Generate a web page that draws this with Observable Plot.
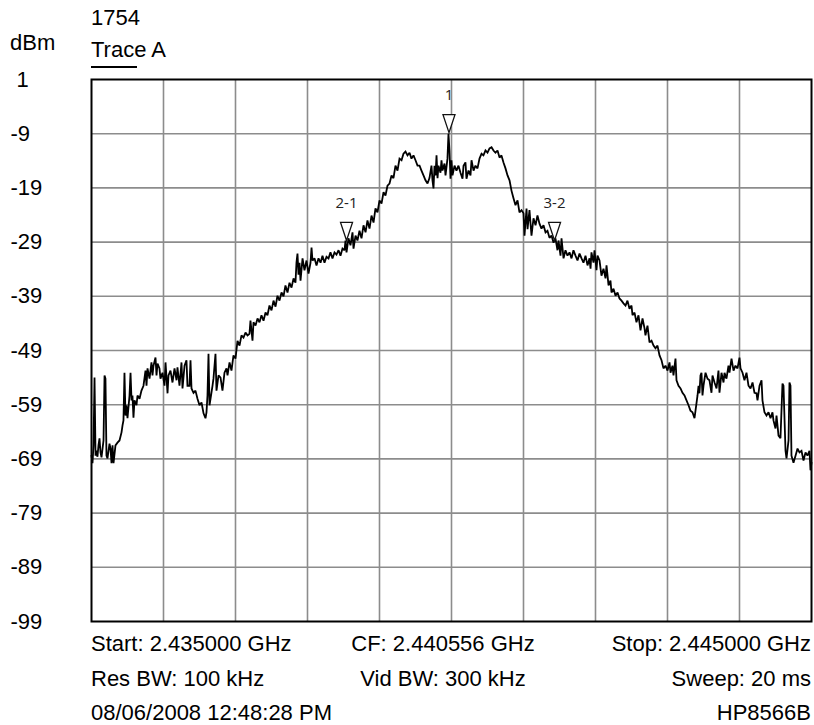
<!DOCTYPE html>
<html>
<head>
<meta charset="utf-8">
<script src="https://cdn.jsdelivr.net/npm/d3@7"></script>
<script src="https://cdn.jsdelivr.net/npm/@observablehq/plot@0.6"></script>
<style>
  body { margin: 0; background: #fff; }
  #wrap { position: relative; width: 814px; height: 725px; overflow: hidden;
          font-family: "Liberation Sans", Arial, sans-serif; font-size: 22px; color: #000; }
  .t { position: absolute; line-height: 22px; white-space: pre; }
  .c { transform: translateX(-50%); }
  #swatch { position: absolute; left: 91px; top: 66px; width: 46px; height: 2px; background: #000; }
  #chart { position: absolute; left: 0; top: 70px; }
</style>
</head>
<body>
<div id="wrap">
  <div class="t" id="title" style="left:91px;top:7px;"></div>
  <div class="t" id="unit" style="left:10px;top:32px;"></div>
  <div class="t" id="traceName" style="left:91px;top:39px;"></div>
  <div id="swatch"></div>
  <div id="chart"></div>
  <div class="t" id="f0" style="left:91px;top:633px;"></div>
  <div class="t c" id="f1" style="left:443px;top:633px;"></div>
  <div class="t" id="f2" style="right:3px;top:633px;"></div>
  <div class="t" id="f3" style="left:91px;top:668px;"></div>
  <div class="t c" id="f4" style="left:443px;top:668px;"></div>
  <div class="t" id="f5" style="right:3px;top:668px;"></div>
  <div class="t" id="f6" style="left:91px;top:702px;"></div>
  <div class="t c" id="f7" style="left:443px;top:702px;"></div>
  <div class="t" id="f8" style="right:3px;top:702px;"></div>
</div>
<script>
// ---- data ----
const titleText = "1754";
const unitText = "dBm";
const traceName = "Trace A";
const footerLines = [
  "Start: 2.435000 GHz", "CF: 2.440556 GHz", "Stop: 2.445000 GHz",
  "Res BW: 100 kHz", "Vid BW: 300 kHz", "Sweep: 20 ms",
  "08/06/2008 12:48:28 PM", "", "HP8566B"
];
// level axis (dBm), 10 dB/div
const yTicks = [1, -9, -19, -29, -39, -49, -59, -69, -79, -89, -99];
// frequency divisions, MHz from start (span 10 MHz)
const xDivs = [0, 1, 2, 3, 4, 5, 6, 7, 8, 9, 10];
// markers: offset MHz from start, level dBm, label
const markerOffset = [4.965, 3.542, 6.431];
const markerLevel = [-8.8, -28.7, -28.7];
const markerLabel = ["1", "2-1", "3-2"];
// trace A samples: [offset MHz from start, level dBm]
const traceA = [
[0,-68.4],[0.014,-69.8],[0.028,-66.5],[0.042,-54.0],[0.056,-68.4],[0.069,-67.5],[0.083,-68.6],[0.097,-66.5],[0.111,-65.2],[0.125,-67.8],[0.139,-68.7],[0.167,-65.6],[0.181,-53.6],[0.194,-54.2],[0.208,-68.4],[0.222,-68.9],[0.25,-66.2],[0.264,-67.1],[0.278,-69.8],[0.292,-66.5],[0.306,-69.8],[0.333,-66.5],[0.361,-66.0],[0.389,-65.6],[0.417,-64.1],[0.431,-62.8],[0.444,-61.9],[0.458,-53.1],[0.472,-61.0],[0.486,-59.1],[0.5,-61.5],[0.528,-57.3],[0.542,-53.1],[0.556,-58.2],[0.569,-57.3],[0.583,-61.4],[0.597,-58.2],[0.625,-59.1],[0.639,-57.3],[0.667,-57.9],[0.694,-56.4],[0.722,-55.5],[0.75,-52.7],[0.764,-55.5],[0.778,-52.3],[0.806,-54.2],[0.833,-51.2],[0.847,-53.6],[0.861,-51.8],[0.889,-50.3],[0.903,-53.6],[0.917,-51.4],[0.944,-52.3],[0.958,-54.2],[0.986,-53.1],
[1.014,-55.5],[1.028,-51.2],[1.056,-56.9],[1.069,-53.6],[1.097,-52.7],[1.125,-54.9],[1.153,-52.3],[1.181,-54.5],[1.194,-52.1],[1.222,-55.5],[1.25,-51.2],[1.264,-56.0],[1.292,-51.8],[1.319,-50.8],[1.333,-55.5],[1.361,-55.5],[1.375,-50.8],[1.389,-56.0],[1.417,-56.8],[1.444,-56.4],[1.472,-57.9],[1.5,-59.1],[1.528,-58.6],[1.556,-60.6],[1.583,-61.5],[1.597,-60.4],[1.611,-57.3],[1.625,-49.6],[1.639,-59.1],[1.653,-57.9],[1.681,-55.5],[1.694,-54.2],[1.722,-49.6],[1.736,-56.4],[1.764,-53.6],[1.792,-54.0],[1.819,-56.4],[1.847,-53.1],[1.875,-52.3],[1.889,-53.6],[1.917,-51.2],[1.944,-52.7],[1.972,-49.9],
[2.0,-50.5],[2.028,-47.2],[2.056,-48.1],[2.083,-46.2],[2.111,-46.6],[2.139,-45.7],[2.167,-46.2],[2.194,-45.9],[2.208,-43.5],[2.236,-47.2],[2.25,-43.8],[2.278,-44.4],[2.306,-43.1],[2.333,-43.8],[2.361,-42.5],[2.389,-43.5],[2.417,-42.0],[2.444,-42.5],[2.472,-40.7],[2.5,-41.6],[2.528,-39.8],[2.556,-40.9],[2.583,-38.9],[2.611,-39.8],[2.639,-38.3],[2.667,-39.0],[2.694,-37.0],[2.722,-38.3],[2.75,-36.5],[2.778,-37.4],[2.806,-35.7],[2.833,-36.5],[2.847,-32.8],[2.861,-31.1],[2.875,-35.0],[2.889,-32.8],[2.903,-36.1],[2.931,-32.0],[2.958,-34.2],[2.986,-32.4],
[3.014,-34.8],[3.042,-32.8],[3.056,-30.0],[3.069,-32.4],[3.097,-32.0],[3.125,-33.3],[3.153,-32.0],[3.181,-32.8],[3.208,-31.5],[3.236,-32.8],[3.264,-31.7],[3.292,-32.0],[3.319,-30.9],[3.347,-32.0],[3.375,-30.9],[3.403,-31.3],[3.431,-30.5],[3.458,-31.5],[3.486,-30.2],[3.514,-30.5],[3.528,-28.7],[3.542,-30.9],[3.569,-28.3],[3.597,-29.6],[3.625,-27.2],[3.639,-30.2],[3.667,-27.8],[3.694,-28.7],[3.722,-26.9],[3.75,-28.3],[3.778,-25.9],[3.806,-27.2],[3.833,-25.0],[3.861,-26.5],[3.889,-24.1],[3.917,-25.4],[3.944,-22.8],[3.972,-23.5],
[4.0,-21.3],[4.028,-21.9],[4.056,-19.8],[4.083,-20.4],[4.111,-18.6],[4.139,-18.2],[4.167,-16.7],[4.194,-17.2],[4.222,-14.9],[4.25,-15.8],[4.278,-13.6],[4.306,-13.9],[4.333,-12.7],[4.361,-12.3],[4.389,-13.0],[4.417,-12.5],[4.444,-13.6],[4.472,-13.0],[4.5,-13.9],[4.528,-14.9],[4.556,-14.9],[4.583,-15.8],[4.611,-16.7],[4.639,-17.6],[4.667,-18.2],[4.694,-17.2],[4.722,-14.9],[4.736,-17.6],[4.75,-19.1],[4.764,-14.9],[4.778,-16.7],[4.792,-13.0],[4.806,-17.2],[4.819,-14.9],[4.847,-16.2],[4.861,-13.9],[4.875,-15.8],[4.903,-14.5],[4.917,-16.7],[4.944,-13.6],[4.958,-9.0],[4.972,-12.1],[4.986,-17.3],
[5.0,-13.9],[5.014,-16.7],[5.042,-14.9],[5.069,-15.8],[5.097,-14.9],[5.125,-16.2],[5.153,-17.3],[5.167,-14.9],[5.194,-14.3],[5.208,-17.3],[5.236,-15.8],[5.264,-16.7],[5.278,-13.9],[5.306,-15.8],[5.333,-14.9],[5.361,-15.4],[5.389,-13.6],[5.417,-12.7],[5.444,-13.0],[5.472,-12.1],[5.5,-12.5],[5.528,-11.7],[5.556,-11.5],[5.583,-12.1],[5.611,-12.5],[5.639,-12.1],[5.667,-13.4],[5.694,-13.0],[5.722,-14.3],[5.75,-15.4],[5.778,-16.7],[5.806,-17.6],[5.833,-19.5],[5.861,-20.9],[5.889,-22.2],[5.917,-21.3],[5.944,-23.5],[5.972,-23.1],
[6.0,-23.7],[6.014,-27.8],[6.042,-22.8],[6.056,-26.6],[6.083,-23.1],[6.111,-27.8],[6.139,-24.6],[6.167,-25.9],[6.194,-24.1],[6.222,-25.6],[6.25,-26.5],[6.278,-25.9],[6.306,-27.2],[6.333,-26.9],[6.361,-28.2],[6.389,-27.8],[6.417,-29.1],[6.444,-28.3],[6.472,-30.5],[6.486,-28.7],[6.514,-31.5],[6.528,-28.3],[6.556,-32.0],[6.583,-30.5],[6.611,-31.5],[6.639,-30.9],[6.667,-32.0],[6.694,-30.5],[6.722,-31.5],[6.75,-32.4],[6.778,-31.1],[6.806,-32.0],[6.833,-32.8],[6.861,-31.5],[6.889,-33.3],[6.917,-32.0],[6.931,-33.9],[6.944,-30.9],[6.972,-32.8],[6.986,-30.5],
[7.014,-34.2],[7.028,-31.5],[7.056,-32.4],[7.083,-35.2],[7.111,-33.9],[7.139,-35.7],[7.153,-33.3],[7.181,-37.0],[7.208,-36.1],[7.222,-38.3],[7.25,-37.6],[7.278,-38.9],[7.306,-38.3],[7.333,-39.4],[7.361,-39.8],[7.389,-40.3],[7.417,-40.7],[7.444,-39.8],[7.472,-41.3],[7.5,-40.7],[7.514,-42.5],[7.542,-42.0],[7.569,-43.8],[7.597,-42.5],[7.625,-45.3],[7.653,-43.1],[7.681,-44.9],[7.694,-46.2],[7.722,-44.4],[7.75,-47.5],[7.778,-47.2],[7.806,-48.1],[7.833,-48.6],[7.861,-48.1],[7.889,-49.9],[7.917,-50.8],[7.944,-52.3],[7.972,-51.8],
[8.0,-52.7],[8.028,-51.2],[8.042,-53.1],[8.069,-51.8],[8.083,-53.6],[8.111,-50.5],[8.125,-54.5],[8.153,-55.5],[8.181,-56.0],[8.208,-56.8],[8.236,-57.3],[8.264,-58.2],[8.292,-59.1],[8.319,-60.1],[8.347,-60.4],[8.375,-61.5],[8.389,-60.1],[8.417,-57.3],[8.431,-55.5],[8.444,-56.9],[8.458,-53.6],[8.472,-53.1],[8.486,-57.3],[8.5,-55.5],[8.528,-53.1],[8.556,-54.2],[8.583,-54.5],[8.611,-56.8],[8.625,-53.6],[8.653,-54.9],[8.681,-56.0],[8.708,-52.7],[8.722,-56.8],[8.75,-53.1],[8.778,-54.9],[8.792,-53.1],[8.819,-54.2],[8.847,-51.8],[8.861,-53.1],[8.889,-50.5],[8.917,-52.7],[8.944,-51.8],[8.972,-52.3],
[9.0,-50.3],[9.014,-52.3],[9.042,-53.1],[9.069,-54.5],[9.097,-53.1],[9.125,-55.5],[9.153,-56.0],[9.181,-54.9],[9.208,-56.8],[9.236,-56.9],[9.25,-58.2],[9.278,-55.5],[9.306,-54.5],[9.319,-58.2],[9.347,-60.4],[9.375,-61.0],[9.403,-60.4],[9.431,-61.5],[9.458,-60.4],[9.472,-61.9],[9.5,-63.4],[9.514,-61.0],[9.542,-64.7],[9.569,-65.2],[9.597,-55.1],[9.611,-55.5],[9.639,-67.5],[9.653,-68.9],[9.681,-65.6],[9.694,-54.9],[9.708,-55.5],[9.722,-68.4],[9.75,-69.7],[9.778,-68.4],[9.806,-67.1],[9.833,-67.8],[9.861,-67.5],[9.889,-69.3],[9.917,-67.8],[9.944,-68.4],[9.972,-67.5],[9.986,-71.1],[10.0,-69.7]
];

// ---- header / footer text ----
document.getElementById("title").textContent = titleText;
document.getElementById("unit").textContent = unitText;
document.getElementById("traceName").textContent = traceName;
footerLines.forEach((s, i) => { document.getElementById("f" + i).textContent = s; });

// ---- chart ----
const markers = markerOffset.map((x, i) => ({x, y: markerLevel[i], label: markerLabel[i]}));

// down-pointing triangle with its tip at the data point
const markerSymbol = {
  draw(context, size) {
    const r = Math.sqrt(size / Math.PI);
    context.moveTo(0, 0);
    context.lineTo(-0.6 * r, -1.8 * r);
    context.lineTo(0.6 * r, -1.8 * r);
    context.closePath();
  }
};

const gridColor = "#8c8c8c";

const chart = Plot.plot({
  width: 814,
  height: 560,
  marginLeft: 91,
  marginRight: 3,
  marginTop: 9,
  marginBottom: 9,
  style: {fontFamily: "'Liberation Sans', Arial, sans-serif", fontSize: "22px", background: "white", overflow: "visible"},
  x: {domain: [0, 10], axis: null},
  y: {domain: [-99, 1], axis: null},
  marks: [
    Plot.ruleX(xDivs.slice(1, -1), {stroke: gridColor, strokeWidth: 1.6}),
    Plot.ruleY(yTicks.slice(1, -1), {stroke: gridColor, strokeWidth: 1.6}),
    Plot.line(traceA, {x: d => d[0], y: d => d[1], stroke: "#000", strokeWidth: 1.8, strokeLinejoin: "miter", strokeMiterlimit: 2}),
    Plot.frame({stroke: "#000", strokeWidth: 2}),
    Plot.dot(markers, {x: "x", y: "y", symbol: markerSymbol, r: 10, fill: "white", stroke: "#111", strokeWidth: 1.3}),
    Plot.text(markers, {x: "x", y: "y", text: "label", dy: -37, fontSize: 15, fill: "#222", fontFamily: "'Open Sans', 'Noto Sans', sans-serif"}),
    Plot.text(yTicks, {
      y: d => d,
      text: d => (d >= 0 ? "\u00a0" + d : String(d)),
      frameAnchor: "left",
      textAnchor: "start",
      dx: -81,
      fontSize: 22,
      fill: "#000"
    })
  ]
});
document.getElementById("chart").appendChild(chart);
</script>
</body>
</html>
